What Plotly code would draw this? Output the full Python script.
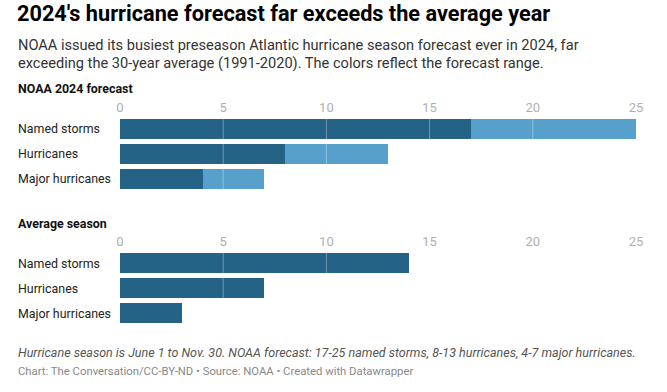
import plotly.graph_objects as go

categories = ["Named storms", "Hurricanes", "Major hurricanes"]
forecast_low = [17, 8, 4]
forecast_high = [25, 13, 7]
average_season = [14, 7, 3]
tick_vals = [0, 5, 10, 15, 20, 25]
grid_vals = [5, 10, 15, 20]

DARK = "#256386"
LIGHT = "#56a0cb"
FONT = "Roboto"
W, H = 667, 392

def py(px):
    return 1 - px / H

fig = go.Figure()

forecast_range = [h - l for h, l in zip(forecast_high, forecast_low)]

fig.add_trace(go.Bar(y=categories, x=forecast_low, orientation="h", marker=dict(color=DARK, line=dict(width=0)),
                     xaxis="x", yaxis="y", showlegend=False, hoverinfo="skip"))
fig.add_trace(go.Bar(y=categories, x=forecast_range, orientation="h", marker=dict(color=LIGHT, line=dict(width=0)),
                     xaxis="x", yaxis="y", showlegend=False, hoverinfo="skip"))
fig.add_trace(go.Bar(y=categories, x=average_season, orientation="h", marker=dict(color=DARK, line=dict(width=0)),
                     xaxis="x2", yaxis="y2", showlegend=False, hoverinfo="skip"))

xdom = [120 / W, 636 / W]
axis_common = dict(range=[0, 25], tickvals=tick_vals, side="top", showgrid=False, zeroline=False,
                   showline=False, ticks="", tickfont=dict(family=FONT, size=13, color="#b0b0b0"),
                   ticklabelstandoff=1, fixedrange=True, domain=xdom)
yax_common = dict(categoryorder="array", categoryarray=categories, autorange="reversed",
                  showticklabels=False, showgrid=False, zeroline=False, showline=False, ticks="", fixedrange=True)

fig.update_layout(
    width=W, height=H,
    margin=dict(l=0, r=0, t=0, b=0, autoexpand=False),
    paper_bgcolor="white", plot_bgcolor="white",
    barmode="stack", bargap=0.2,
    xaxis=dict(anchor="y", **axis_common),
    yaxis=dict(anchor="x", domain=[py(191.5), py(116.5)], **yax_common),
    xaxis2=dict(anchor="y2", **axis_common),
    yaxis2=dict(anchor="x2", domain=[py(325.5), py(250.5)], **yax_common),
    font=dict(family=FONT),
)

shapes = []
for xr, yr in [("x", "y"), ("x2", "y2")]:
    for g in grid_vals:
        shapes.append(dict(type="line", xref=xr, yref=yr + " domain", x0=g, x1=g, y0=0, y1=1,
                           line=dict(color="rgba(255,255,255,0.35)", width=1), layer="above"))
fig.update_layout(shapes=shapes)

ann = []
for yr in ["y", "y2"]:
    for c in categories:
        ann.append(dict(text=c, xref="paper", yref=yr, x=16 / W, y=c, xanchor="left", yanchor="middle",
                        showarrow=False, font=dict(family=FONT, size=12.4, color="#222")))

def txt(t, x, y, size, color, bold=False, italic=False):
    if bold:
        t = "<b>" + t + "</b>"
    if italic:
        t = "<i>" + t + "</i>"
    return dict(text=t, xref="paper", yref="paper", x=x / W, y=py(y), xanchor="left", yanchor="middle",
                showarrow=False, align="left", font=dict(family=FONT, size=size, color=color))

ann.append(txt("2024's hurricane forecast far exceeds the average year", 15, 14, 21.7, "#000", bold=True))
ann.append(txt("NOAA issued its busiest preseason Atlantic hurricane season forecast ever in 2024, far", 16, 45, 14.6, "#333"))
ann.append(txt("exceeding the 30-year average (1991-2020). The colors reflect the forecast range.", 16, 63, 14.6, "#333"))
ann.append(txt("NOAA 2024 forecast", 16, 88, 12.4, "#111", bold=True))
ann.append(txt("Average season", 16, 223, 12.4, "#111", bold=True))
ann.append(txt("Hurricane season is June 1 to Nov. 30. NOAA forecast: 17-25 named storms, 8-13 hurricanes, 4-7 major hurricanes.",
               16, 352, 12.5, "#555", italic=True))
ann.append(txt("Chart: The Conversation/CC-BY-ND • Source: NOAA • Created with Datawrapper", 16, 371, 11.3, "#888"))

fig.update_layout(annotations=ann)

fig.write_html("out.html", config={"displayModeBar": False},
               post_script="document.body.style.margin='0px';document.body.style.padding='0px';")
